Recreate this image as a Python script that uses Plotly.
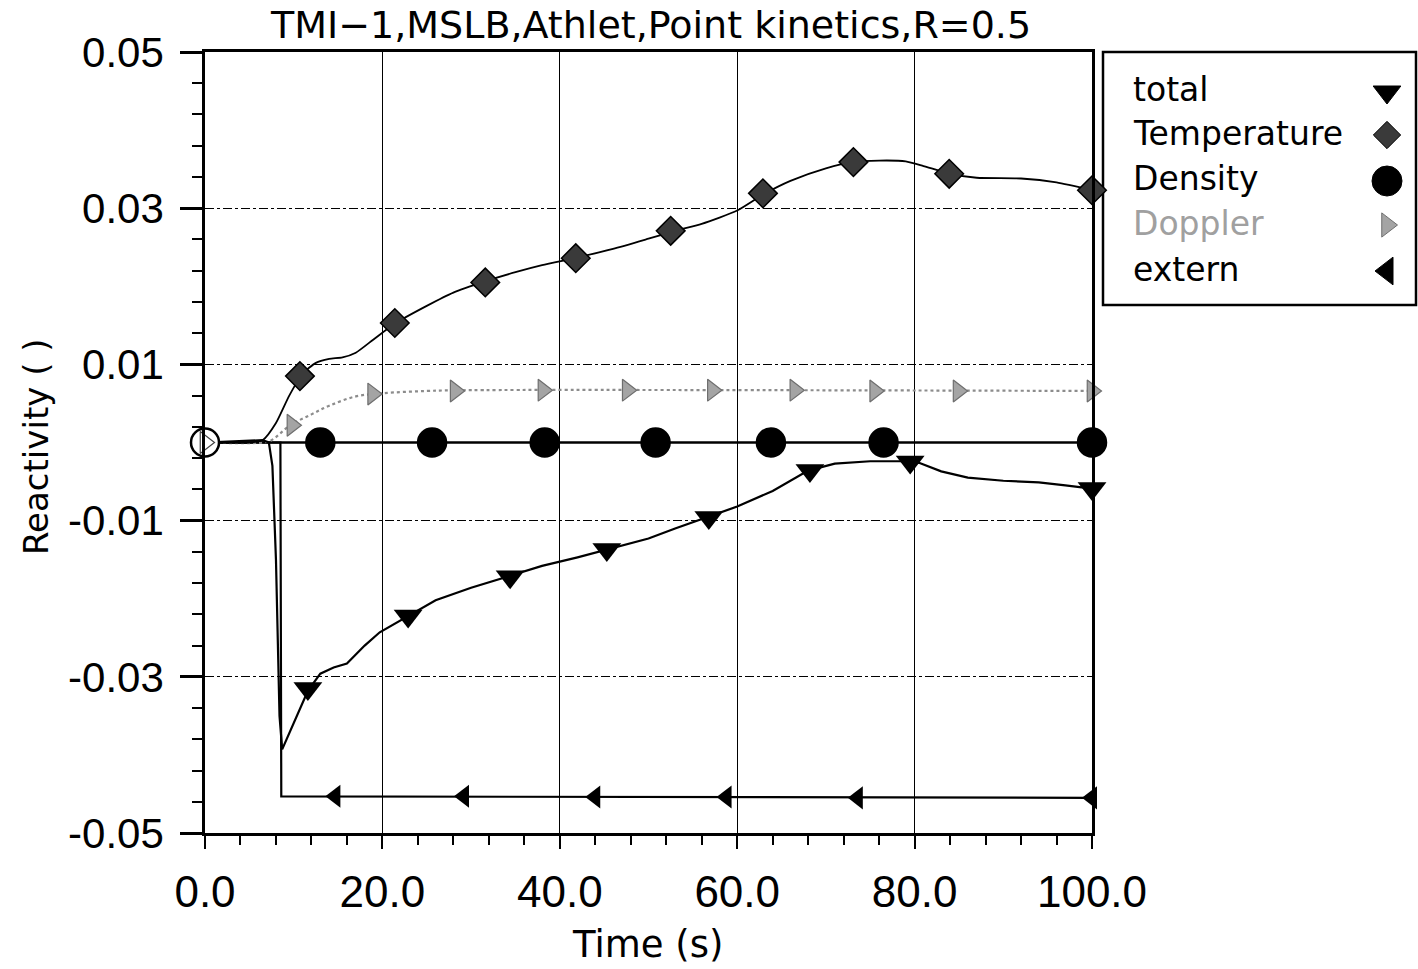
import plotly.graph_objects as go

# ---------------- data ----------------
temp_t = [0, 5, 6.5, 8, 9.5, 11, 12.5, 14, 15.5, 17, 19, 21.5, 25, 28, 31.5, 35, 38, 42, 46,
          50, 53, 56, 60, 63, 66, 70, 73, 76, 79, 81, 84, 87, 92, 96, 100]
temp_v = [0.0, 0.0, 0.0003, 0.0025, 0.006, 0.0088, 0.0102, 0.0107, 0.0109, 0.0115, 0.0132,
          0.0153, 0.0175, 0.0192, 0.0206, 0.0218, 0.0227, 0.0237, 0.0248, 0.0261, 0.0271,
          0.028, 0.0297, 0.0318, 0.0335, 0.0351, 0.0359, 0.0361, 0.036, 0.0354, 0.0344,
          0.0339, 0.0338, 0.0333, 0.0323]
temp_mt = [10.7, 21.4, 31.6, 41.8, 52.5, 62.9, 73.1, 83.9, 100]
temp_mv = [0.0085, 0.0153, 0.0205, 0.0236, 0.0271, 0.0319, 0.0359, 0.0344, 0.0323]

total_t = [0, 5, 6.5, 7.2, 7.6, 8.0, 8.4, 8.7, 10.4, 11.6, 13, 14.5, 16, 18, 19.7, 23, 26,
           30, 34, 38, 42, 46, 50, 53, 57, 60, 64, 68, 71, 75, 78.5, 80.5, 83, 86, 90, 94,
           97, 100]
total_v = [0.0, 0.0002, 0.0003, 0.0, -0.003, -0.015, -0.035, -0.0393, -0.035, -0.0318,
           -0.0296, -0.0288, -0.0283, -0.026, -0.0243, -0.0222, -0.0202, -0.0186, -0.0172,
           -0.0158, -0.0147, -0.0135, -0.0123, -0.011, -0.0094, -0.0082, -0.0062, -0.0036,
           -0.0027, -0.0024, -0.0024, -0.0026, -0.0037, -0.0045, -0.0049, -0.0051, -0.0055,
           -0.0059]
total_mt = [11.6, 22.9, 34.4, 45.3, 56.8, 68.2, 79.5, 100]
total_mv = [-0.0315, -0.0222, -0.0172, -0.0137, -0.0096, -0.0036, -0.0025, -0.0059]

dop_t = [0, 6.5, 7.5, 9.6, 12, 14, 17, 20, 25, 30, 100]
dop_v = [0.0, 0.0, 0.0003, 0.0022, 0.0036, 0.0047, 0.0059, 0.0063, 0.0066, 0.0067, 0.0066]
dop_mt = [0, 9.8, 18.9, 28.2, 38.1, 47.6, 57.2, 66.5, 75.5, 84.9, 100]
dop_mv = [0.0, 0.0022, 0.0062, 0.0066, 0.0067, 0.0067, 0.0067, 0.0067, 0.0066, 0.0066, 0.0066]

dens_t = [0, 100]
dens_v = [0.0, 0.0]
dens_mt = [0, 13, 25.6, 38.3, 50.8, 63.8, 76.5, 100]
dens_mv = [0.0, 0.0, 0.0, 0.0, 0.0, 0.0, 0.0, 0.0]

ext_t = [0, 8.5, 8.6, 100]
ext_v = [0.0, 0.0, -0.0453, -0.0455]
ext_mt = [14.7, 29.2, 44.0, 58.8, 73.6, 100]
ext_mv = [-0.0453, -0.0453, -0.0454, -0.0454, -0.0455, -0.0455]

x_ticks = [0, 20, 40, 60, 80, 100]
x_ticktext = ["0.0", "20.0", "40.0", "60.0", "80.0", "100.0"]
y_ticks = [0.05, 0.03, 0.01, -0.01, -0.03, -0.05]
y_ticktext = ["0.05", "0.03", "0.01", "-0.01", "-0.03", "-0.05"]

legend_names = ["total", "Temperature", "Density", "Doppler", "extern"]

TITLE = "TMI\u22121,MSLB,Athlet,Point kinetics,R=0.5"

BLACK = "#000000"
DARK = "#3a3a3a"
GRAY = "#a4a4a4"
GRAY_EDGE = "#6e6e6e"
GRAY_LINE = "#8c8c8c"
GRAY_TEXT = "#a0a0a0"

fig = go.Figure()

# lines
fig.add_trace(go.Scatter(x=dens_t, y=dens_v, mode="lines", line=dict(color=BLACK, width=2.5),
                         showlegend=False, hoverinfo="skip"))
fig.add_trace(go.Scatter(x=ext_t, y=ext_v, mode="lines", line=dict(color=BLACK, width=2.2),
                         showlegend=False))
fig.add_trace(go.Scatter(x=dop_t, y=dop_v, mode="lines",
                         line=dict(color=GRAY_LINE, width=2.2, dash="dot", shape="spline"),
                         showlegend=False))
fig.add_trace(go.Scatter(x=temp_t, y=temp_v, mode="lines",
                         line=dict(color=BLACK, width=1.8, shape="spline", smoothing=0.6),
                         showlegend=False))
fig.add_trace(go.Scatter(x=total_t, y=total_v, mode="lines", line=dict(color=BLACK, width=2.2),
                         showlegend=False))

# markers
fig.add_trace(go.Scatter(x=dens_mt, y=dens_mv, mode="markers",
                         marker=dict(symbol="circle", size=28, opacity=1,
                                     color=["white"] + [BLACK] * (len(dens_mt) - 1),
                                     line=dict(color=BLACK, width=2.5)),
                         cliponaxis=False, showlegend=False))
fig.add_trace(go.Scatter(x=ext_mt, y=ext_mv, mode="markers",
                         marker=dict(symbol="triangle-left", size=20, color=BLACK, opacity=1),
                         cliponaxis=False, showlegend=False))
fig.add_trace(go.Scatter(x=dop_mt, y=dop_mv, mode="markers",
                         marker=dict(symbol="triangle-right", size=19, opacity=1,
                                     color=["white"] + [GRAY] * (len(dop_mt) - 1),
                                     line=dict(color=["#444444"] + [GRAY_EDGE] * (len(dop_mt) - 1), width=1.2)),
                         cliponaxis=False, showlegend=False))
fig.add_trace(go.Scatter(x=temp_mt, y=temp_mv, mode="markers",
                         marker=dict(symbol="diamond", size=22, color=DARK, opacity=1,
                                     line=dict(color=BLACK, width=1.5)),
                         cliponaxis=False, showlegend=False))
fig.add_trace(go.Scatter(x=total_mt, y=total_mv, mode="markers",
                         marker=dict(symbol="triangle-down", size=25, color=BLACK, opacity=1),
                         cliponaxis=False, showlegend=False))

# legend symbols (on a separate decorative axis)
leg_y = [92, 135, 181, 225, 271]
leg_x = [1387] * 5
fig.add_trace(go.Scatter(x=leg_x, y=leg_y, xaxis="x2", yaxis="y2", mode="markers",
                         marker=dict(symbol=["triangle-down", "diamond", "circle", "triangle-right", "triangle-left"],
                                     size=[24, 21, 30, 21, 24], opacity=1,
                                     color=[BLACK, DARK, BLACK, GRAY, BLACK],
                                     line=dict(color=[BLACK, BLACK, BLACK, GRAY_EDGE, BLACK], width=1)),
                         showlegend=False, cliponaxis=False))

W, H = 1418, 969
ML, MT, MB = 205, 52, 136
PW = W - ML
plot_right = 1092
xdom = (plot_right - ML) / PW
PH = H - MT - MB

def px2paper_x(px):
    return (px - ML) / PW

def px2paper_y(py):
    return (H - MB - py) / PH

fig.update_layout(
    width=W, height=H, autosize=False,
    margin=dict(l=ML, r=0, t=MT, b=MB, pad=0, autoexpand=False),
    paper_bgcolor="white", plot_bgcolor="white",
    showlegend=False,
    xaxis=dict(domain=[0, xdom], range=[0, 100], tickvals=x_ticks, ticktext=x_ticktext,
               automargin=False,
               ticks="outside", ticklen=13, tickwidth=2, tickcolor=BLACK,
               showline=True, linecolor=BLACK, linewidth=2.5, mirror=True,
               showgrid=True, gridcolor=BLACK, gridwidth=1.2,
               zeroline=False,
               tickfont=dict(family="Liberation Sans, Arial", size=44, color=BLACK),
               ticklabelstandoff=5,
               minor=dict(dtick=4, tick0=0, ticks="outside", ticklen=9, tickwidth=1.5,
                          tickcolor=BLACK, showgrid=False)),
    yaxis=dict(range=[-0.05, 0.05], tickvals=y_ticks, ticktext=y_ticktext,
               automargin=False,
               ticks="outside", ticklen=22, tickwidth=3, tickcolor=BLACK,
               showline=True, linecolor=BLACK, linewidth=2.5, mirror=True,
               showgrid=True, gridcolor=BLACK, gridwidth=1.2, griddash="dashdot",
               zeroline=False,
               tickfont=dict(family="Liberation Sans, Arial", size=42, color=BLACK),
               ticklabelstandoff=8,
               minor=dict(dtick=0.004, tick0=-0.05, ticks="outside", ticklen=10, tickwidth=1.5,
                          tickcolor=BLACK, showgrid=False)),
    xaxis2=dict(domain=[px2paper_x(1103), px2paper_x(1416)], range=[1103, 1416],
                anchor="y2", visible=False, fixedrange=True, automargin=False),
    yaxis2=dict(domain=[px2paper_y(305), px2paper_y(52)], range=[305, 52],
                anchor="x2", visible=False, fixedrange=True, automargin=False),
)

shapes = [dict(type="rect", xref="paper", yref="paper", layer="below",
               x0=px2paper_x(1103), x1=px2paper_x(1416), y0=px2paper_y(305), y1=px2paper_y(52),
               line=dict(color=BLACK, width=2.5), fillcolor="white")]
fig.update_layout(shapes=shapes)

geo = "DejaVu Sans, Verdana, sans-serif"
ann = [
    dict(text=TITLE, x=px2paper_x(650), y=px2paper_y(25), xref="paper", yref="paper",
         showarrow=False, xanchor="center", yanchor="middle",
         font=dict(family=geo, size=38, color=BLACK)),
    dict(text="Time (s)", x=px2paper_x(647), y=px2paper_y(944), xref="paper", yref="paper",
         showarrow=False, xanchor="center", yanchor="middle",
         font=dict(family=geo, size=37, color=BLACK)),
    dict(text="Reactivity ( )", x=px2paper_x(36), y=px2paper_y(447), xref="paper", yref="paper",
         showarrow=False, xanchor="center", yanchor="middle", textangle=-90,
         font=dict(family=geo, size=34, color=BLACK)),
]
leg_colors = [BLACK, BLACK, BLACK, GRAY_TEXT, BLACK]
for name, yy, col in zip(legend_names, leg_y, leg_colors):
    ann.append(dict(text=name, x=px2paper_x(1131), y=px2paper_y(yy - 2), xref="paper", yref="paper",
                    showarrow=False, xanchor="left", yanchor="middle",
                    font=dict(family=geo, size=33, color=col)))
fig.update_layout(annotations=ann)

fig.write_html("out.html")
